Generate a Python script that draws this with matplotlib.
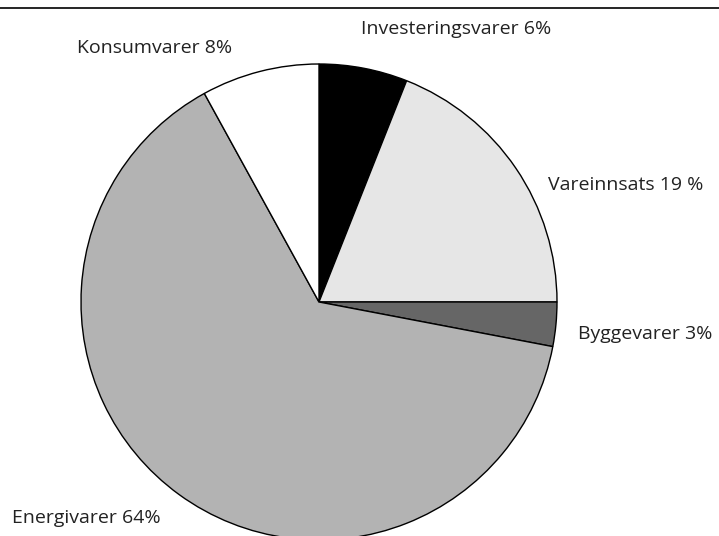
import matplotlib
matplotlib.use("Agg")
import matplotlib.pyplot as plt

categories = ["Investeringsvarer", "Vareinnsats", "Byggevarer", "Energivarer", "Konsumvarer"]
values = [6, 19, 3, 64, 8]
labels = ["Investeringsvarer 6%", "Vareinnsats 19 %", "Byggevarer 3%", "Energivarer 64%", "Konsumvarer 8%"]
colors = ["#000000", "#e6e6e6", "#666666", "#b3b3b3", "#ffffff"]

W, H = 719, 536
fig = plt.figure(figsize=(W / 100, H / 100), dpi=100)
ax = fig.add_axes([0, 0, 1, 1])

cx, cy, r = 319, H - 302, 238
ax.pie(values, colors=colors, startangle=90, counterclock=False,
       center=(cx, cy), radius=r, frame=True,
       wedgeprops=dict(edgecolor="black", linewidth=1.0))
ax.set_xlim(0, W)
ax.set_ylim(0, H)
ax.set_aspect("equal")
ax.axis("off")

# top rule
ax.plot([0, W], [H - 8, H - 8], color="black", linewidth=1.2, clip_on=False)

font = dict(family=["Open Sans", "DejaVu Sans"], fontsize=14, color="#222222")
# left x, baseline y (pixels from top)
pos = [(361, 34), (548, 190), (578, 339), (12, 523), (77, 53)]
for lab, (x, y) in zip(labels, pos):
    ax.text(x, H - y, lab, ha="left", va="baseline", **font)

fig.savefig("out.png", dpi=100)
